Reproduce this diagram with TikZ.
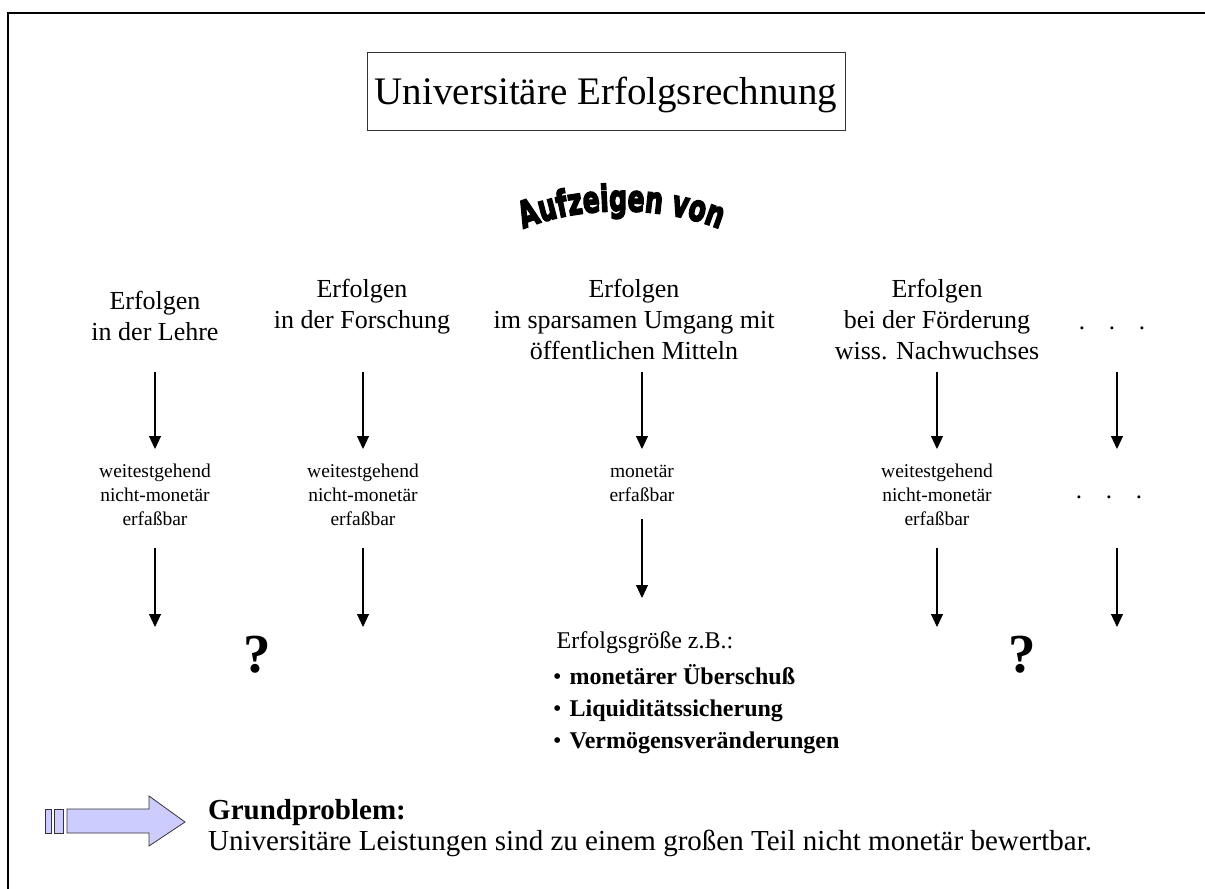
\documentclass[tikz,border=0pt]{standalone}
\usepackage{fontspec}
\setmainfont{Liberation Serif}
\newfontfamily\wordart[FakeBold=5]{DejaVu Sans Bold}
\usetikzlibrary{arrows.meta,decorations.text}
\definecolor{arrowfill}{RGB}{204,204,255}
\tikzset{
 flowarrow/.style={line width=1.1pt, draw=black, -{Triangle[width=12pt,length=13pt]}},
 headtxt/.style={anchor=base, align=center, font=\fontsize{26}{31}\selectfont, inner sep=0pt},
 smalltxt/.style={anchor=base, align=center, font=\fontsize{19.5}{24}\selectfont, inner sep=0pt},
 questtxt/.style={anchor=base, font=\fontsize{55}{55}\selectfont\bfseries, inner sep=0pt},
 dotstxt/.style={anchor=base, font=\fontsize{25}{31}\selectfont, inner sep=0pt},
 blockarrow/.style={fill=arrowfill, draw=black!80, line width=0.8pt},
}
\begin{document}
\begin{tikzpicture}[x=1pt,y=-1pt]
\useasboundingbox (0,0) rectangle (1205,889);
\fill[white] (0,0) rectangle (1205,889);
\begin{scope}
\clip (0,0) rectangle (1205,889);
\draw[line width=1.5pt] (8,13) rectangle (1220,900);
\end{scope}

% title
\node[draw=black!80, line width=1pt, minimum width=478pt, minimum height=78pt, inner sep=0pt] (titlebox) at (606,91.7) {};
\node[anchor=base, font=\fontsize{39}{45}\selectfont, inner sep=0pt] (titletext) at (606,104) {Universitäre Erfolgsrechnung};

% WordArt
\coordinate (aufL) at (516,232);
\coordinate (aufR) at (727,232);
\path[decorate, decoration={text effects along path, text={Aufzeigen von}, text align=center,
  text effects/.cd, characters={text along path, font=\wordart\fontsize{25}{25}\selectfont, yscale=1.45}}]
  (aufL) .. controls (575,204) and (665,204) .. (aufR);

% column 1
\node[headtxt] (h1) at (155,340) {Erfolgen\\in der Lehre};
\coordinate (a1s) at (155,372); \coordinate (a1e) at (155,449);
\draw[flowarrow] (a1s) -- (a1e);
\node[smalltxt] (m1) at (155,525) {weitestgehend\\nicht-monetär\\erfaßbar};
\coordinate (b1s) at (155,548); \coordinate (b1e) at (155,627);
\draw[flowarrow] (b1s) -- (b1e);

% column 2
\node[headtxt] (h2) at (362,328) {Erfolgen\\in der Forschung};
\coordinate (a2s) at (363,372); \coordinate (a2e) at (363,449);
\draw[flowarrow] (a2s) -- (a2e);
\node[smalltxt] (m2) at (363,525) {weitestgehend\\nicht-monetär\\erfaßbar};
\coordinate (b2s) at (363,548); \coordinate (b2e) at (363,627);
\draw[flowarrow] (b2s) -- (b2e);

% column 3
\node[headtxt] (h3) at (634,359) {Erfolgen\\im sparsamen Umgang mit\\öffentlichen Mitteln};
\coordinate (a3s) at (642,372); \coordinate (a3e) at (642,449);
\draw[flowarrow] (a3s) -- (a3e);
\node[smalltxt] (m3) at (642,501) {monetär\\erfaßbar};
\coordinate (b3s) at (642,519); \coordinate (b3e) at (642,598);
\draw[flowarrow] (b3s) -- (b3e);
\node[anchor=base, font=\fontsize{24}{32}\selectfont, inner sep=0pt] (eg) at (645,648) {Erfolgsgröße z.B.:};
\node[anchor=base west, align=left, font=\fontsize{24}{32}\selectfont, inner sep=0pt] (list) at (553,748)
  {•\hskip 8pt\textbf{monetärer Überschuß}\\•\hskip 8pt\textbf{Liquiditätssicherung}\\•\hskip 8pt\textbf{Vermögensveränderungen}};

% column 4
\node[headtxt] (h4) at (937,359) {Erfolgen\\bei der Förderung\\wiss. Nachwuchses};
\coordinate (a4s) at (937,372); \coordinate (a4e) at (937,449);
\draw[flowarrow] (a4s) -- (a4e);
\node[smalltxt] (m4) at (937,525) {weitestgehend\\nicht-monetär\\erfaßbar};
\coordinate (b4s) at (937,548); \coordinate (b4e) at (937,627);
\draw[flowarrow] (b4s) -- (b4e);

% column 5
\node[dotstxt] (d1) at (1112,329) {.\hskip 23.75pt.\hskip 23.75pt.};
\coordinate (a5s) at (1117,372); \coordinate (a5e) at (1117,449);
\draw[flowarrow] (a5s) -- (a5e);
\node[dotstxt] (d2) at (1109,498) {.\hskip 23.75pt.\hskip 23.75pt.};
\coordinate (b5s) at (1117,548); \coordinate (b5e) at (1117,627);
\draw[flowarrow] (b5s) -- (b5e);

% question marks
\node[questtxt] (q1) at (257,672) {?};
\node[questtxt] (q2) at (1022,672) {?};

% block arrow
\draw[blockarrow] (45,809) rectangle (51,833);
\draw[blockarrow] (54,809) rectangle (63,833);
\draw[blockarrow] (67,809) -- (149,809) -- (149,796) -- (185,822) -- (149,846) -- (149,833) -- (67,833) -- cycle;

% bottom text
\node[anchor=base west, align=left, font=\fontsize{29}{31}\selectfont, inner sep=0pt] (gp) at (208,850)
  {\textbf{Grundproblem:}\\Universitäre Leistungen sind zu einem großen Teil nicht monetär bewertbar.};
\end{tikzpicture}
\end{document}
